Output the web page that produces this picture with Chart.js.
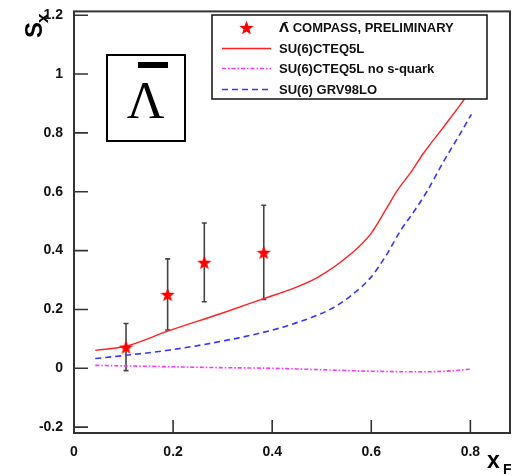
<!DOCTYPE html>
<html>
<head>
<meta charset="utf-8">
<script src="https://cdn.jsdelivr.net/npm/chart.js@4/dist/chart.umd.min.js"></script>
<style>
html,body{margin:0;padding:0;background:#fff;}
#wrap{position:relative;width:518px;height:475px;}
</style>
</head>
<body>
<div id="wrap"><canvas id="c" width="518" height="475"></canvas></div>
<script>
// ---- data ----
const xTicks = [0, 0.2, 0.4, 0.6, 0.8];
const yTicks = [-0.2, 0, 0.2, 0.4, 0.6, 0.8, 1, 1.2];

const dataX = [0.105, 0.189, 0.263, 0.383];
const dataY = [0.072, 0.251, 0.360, 0.394];
const dataErr = [0.080, 0.121, 0.134, 0.160];

const cteqX = [0.043, 0.105, 0.189, 0.30, 0.383, 0.44, 0.492, 0.559, 0.599, 0.632, 0.652, 0.682, 0.705, 0.745, 0.785, 0.80];
const cteqY = [0.061, 0.075, 0.126, 0.188, 0.237, 0.270, 0.309, 0.389, 0.457, 0.547, 0.603, 0.671, 0.730, 0.818, 0.908, 0.945];

const noSX = [0.043, 0.105, 0.2, 0.3, 0.4, 0.5, 0.6, 0.7, 0.75, 0.80];
const noSY = [0.010, 0.008, 0.005, 0.002, 0.000, -0.005, -0.010, -0.012, -0.010, -0.003];

const grvX = [0.043, 0.105, 0.189, 0.263, 0.372, 0.439, 0.519, 0.559, 0.599, 0.632, 0.659, 0.685, 0.712, 0.745, 0.779, 0.802];
const grvY = [0.033, 0.044, 0.061, 0.081, 0.118, 0.149, 0.202, 0.247, 0.309, 0.389, 0.468, 0.530, 0.600, 0.700, 0.796, 0.863];

const legendLabels = ['\u039B\u0304 COMPASS, PRELIMINARY', 'SU(6)CTEQ5L', 'SU(6)CTEQ5L no s-quark', 'SU(6) GRV98LO'];

const toPts = (xs, ys) => xs.map((x, i) => ({x: x, y: ys[i]}));

// ---- star marker ----
function makeStar(size, color) {
  const cv = document.createElement('canvas');
  cv.width = size; cv.height = size;
  const g = cv.getContext('2d');
  const cx = size / 2, cy = size / 2 + size * 0.05, ro = size / 2, ri = ro * 0.42;
  g.beginPath();
  for (let i = 0; i < 10; i++) {
    const r = i % 2 ? ri : ro;
    const a = -Math.PI / 2 + i * Math.PI / 5;
    const px = cx + r * Math.cos(a), py = cy + r * Math.sin(a);
    i ? g.lineTo(px, py) : g.moveTo(px, py);
  }
  g.closePath();
  g.fillStyle = color; g.fill();
  return cv;
}
const star = makeStar(15, '#ff0000');

const FONT = '"Liberation Sans", Arial, Helvetica, sans-serif';

const decor = {
  id: 'decor',
  beforeDatasetsDraw(chart) {
    const {ctx, scales: {x, y}} = chart;
    ctx.save();
    ctx.strokeStyle = '#444';
    ctx.lineWidth = 1.6;
    dataX.forEach((xv, i) => {
      const px = x.getPixelForValue(xv);
      const top = y.getPixelForValue(dataY[i] + dataErr[i]);
      const bot = y.getPixelForValue(dataY[i] - dataErr[i]);
      ctx.beginPath();
      ctx.moveTo(px, top); ctx.lineTo(px, bot);
      ctx.moveTo(px - 2.5, top); ctx.lineTo(px + 2.5, top);
      ctx.moveTo(px - 2.5, bot); ctx.lineTo(px + 2.5, bot);
      ctx.stroke();
    });
    ctx.restore();
  },
  afterDraw(chart) {
    const {ctx, chartArea: a, scales: {x, y}} = chart;
    ctx.save();
    // frame
    ctx.strokeStyle = '#333';
    ctx.lineWidth = 2;
    ctx.strokeRect(a.left, a.top, a.right - a.left, a.bottom - a.top);
    // inward ticks
    ctx.lineWidth = 1.6;
    ctx.beginPath();
    yTicks.forEach(v => {
      const py = y.getPixelForValue(v);
      ctx.moveTo(a.left, py); ctx.lineTo(a.left + 14, py);
    });
    xTicks.forEach(v => {
      if (v === 0) return;
      const px = x.getPixelForValue(v);
      ctx.moveTo(px, a.bottom); ctx.lineTo(px, a.bottom - 13);
    });
    ctx.stroke();

    // inset box with Lambda-bar
    ctx.strokeStyle = '#000';
    ctx.lineWidth = 2;
    ctx.strokeRect(107, 55, 78, 86);
    ctx.fillStyle = '#000';
    ctx.fillRect(138, 62, 30, 6);
    ctx.font = '52px "Liberation Serif", "Times New Roman", serif';
    ctx.textAlign = 'center';
    ctx.textBaseline = 'alphabetic';
    ctx.fillText('\u039B', 145.5, 118);

    // legend
    ctx.fillStyle = '#fff';
    ctx.fillRect(212, 15, 275, 84);
    ctx.strokeStyle = '#111';
    ctx.lineWidth = 1.5;
    ctx.strokeRect(212, 15, 275, 84);
    const rows = [27.5, 48.5, 68.5, 89.5];
    ctx.drawImage(star, 246.5 - 7.5, rows[0] - 7.5);
    const ds = chart.data.datasets;
    [1, 2, 3].forEach((di, k) => {
      const d = ds[di];
      ctx.beginPath();
      ctx.strokeStyle = d.borderColor;
      ctx.lineWidth = d.borderWidth;
      ctx.setLineDash(d.borderDash || []);
      ctx.moveTo(222, rows[k + 1]); ctx.lineTo(271, rows[k + 1]);
      ctx.stroke();
    });
    ctx.setLineDash([]);
    ctx.fillStyle = '#111';
    ctx.textAlign = 'left';
    ctx.textBaseline = 'middle';
    // anti-lambda symbol in a font with good combining-mark support
    ctx.font = 'bold 13px "DejaVu Sans", sans-serif';
    const sym = legendLabels[0].slice(0, 2);
    ctx.fillText(sym, 279, rows[0] + 1);
    const symW = ctx.measureText('\u039B').width;
    ctx.font = 'bold 13px ' + FONT;
    ctx.fillText(legendLabels[0].slice(2), 279 + symW, rows[0] + 1);
    legendLabels.slice(1).forEach((t, i) => ctx.fillText(t, 279, rows[i + 1] + 1));

    // axis titles
    ctx.fillStyle = '#000';
    ctx.textBaseline = 'alphabetic';
    ctx.save();
    ctx.translate(42, 38);
    ctx.rotate(-Math.PI / 2);
    ctx.font = 'bold 24px ' + FONT;
    ctx.fillText('S', 0, 0);
    ctx.restore();
    ctx.save();
    ctx.translate(48, 23);
    ctx.rotate(-Math.PI / 2);
    ctx.font = 'bold 17px ' + FONT;
    ctx.fillText('x', 0, 0);
    ctx.restore();
    ctx.font = 'bold 23px ' + FONT;
    ctx.fillText('x', 487, 468);
    ctx.font = 'bold 14px ' + FONT;
    ctx.fillText('F', 503, 474);
    ctx.restore();
  }
};

const fmt = v => String(Math.round(v * 10) / 10);

new Chart(document.getElementById('c'), {
  type: 'scatter',
  data: {
    datasets: [
      {label: legendLabels[0], data: toPts(dataX, dataY), pointStyle: star, pointRadius: 7, showLine: false, order: 0},
      {label: legendLabels[1], data: toPts(cteqX, cteqY), showLine: true, borderColor: '#ff2020', borderWidth: 1.4, pointRadius: 0, cubicInterpolationMode: 'monotone', order: 3},
      {label: legendLabels[2], data: toPts(noSX, noSY), showLine: true, borderColor: '#ff33ff', borderWidth: 1.6, borderDash: [4, 2, 1.5, 2], pointRadius: 0, cubicInterpolationMode: 'monotone', order: 2},
      {label: legendLabels[3], data: toPts(grvX, grvY), showLine: true, borderColor: '#3535ff', borderWidth: 1.6, borderDash: [6, 4], pointRadius: 0, cubicInterpolationMode: 'monotone', order: 1}
    ]
  },
  options: {
    responsive: false,
    animation: false,
    layout: {padding: {top: 10, right: 4, left: 0, bottom: 0}},
    plugins: {legend: {display: false}, tooltip: {enabled: false}},
    scales: {
      x: {
        type: 'linear', min: 0, max: 0.88,
        afterBuildTicks: s => { s.ticks = xTicks.map(v => ({value: v})); },
        afterFit: s => { s.height = 42; },
        grid: {display: false}, border: {display: false},
        ticks: {font: {family: FONT, size: 14, weight: 'bold'}, color: '#111', padding: 3, maxRotation: 0, callback: fmt}
      },
      y: {
        type: 'linear', min: -0.22, max: 1.213,
        afterBuildTicks: s => { s.ticks = yTicks.map(v => ({value: v})); },
        afterFit: s => { s.width = 74; },
        grid: {display: false}, border: {display: false},
        ticks: {font: {family: FONT, size: 14, weight: 'bold'}, color: '#111', padding: 3, callback: fmt}
      }
    }
  },
  plugins: [decor]
});
</script>
</body>
</html>
